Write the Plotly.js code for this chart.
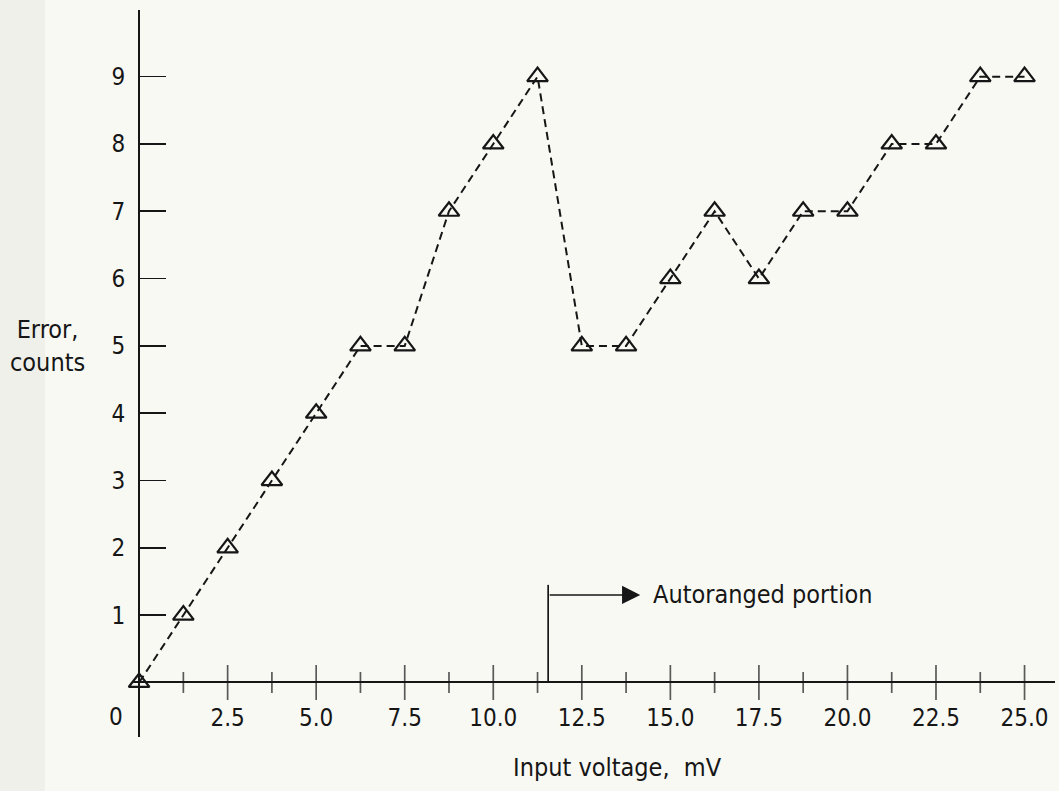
<!DOCTYPE html>
<html>
<head>
<meta charset="utf-8">
<script src="https://cdn.plot.ly/plotly-3.0.1.min.js"></script>
<style>
  html, body { margin: 0; padding: 0; background: #f9f9f4; }
  #chart { width: 1059px; height: 791px; }
</style>
</head>
<body>
<div id="chart"></div>
<script>
// Measured error (in counts) against input voltage (mV)
const inputVoltage = [0, 1.25, 2.5, 3.75, 5.0, 6.25, 7.5, 8.75, 10.0, 11.25, 12.5,
                      13.75, 15.0, 16.25, 17.5, 18.75, 20.0, 21.25, 22.5, 23.75, 25.0];
const errorCounts  = [0, 1, 2, 3, 4, 5, 5, 7, 8, 9, 5,
                      5, 6, 7, 6, 7, 7, 8, 8, 9, 9];

// Axis ticks
const xMajorTicks  = [2.5, 5.0, 7.5, 10.0, 12.5, 15.0, 17.5, 20.0, 22.5, 25.0];
const xTickLabels  = ['2.5', '5.0', '7.5', '10.0', '12.5', '15.0', '17.5', '20.0', '22.5', '25.0'];
const xMinorTicks  = [1.25, 3.75, 6.25, 8.75, 11.25, 13.75, 16.25, 18.75, 21.25, 23.75];
const yTicks       = [1, 2, 3, 4, 5, 6, 7, 8, 9];
const yTickLabels  = ['1', '2', '3', '4', '5', '6', '7', '8', '9'];

// Voltage where autoranging takes over
const autorangeStart = 11.55;

const INK = '#161616';
const BG = '#f9f9f4';
const FONT = "'DejaVu Sans Condensed', 'Liberation Sans Narrow', 'DejaVu Sans', sans-serif";

const xRange = [-0.2, 25.86];
const yRange = [-0.81, 9.99];
const margin = { l: 132, r: 4, t: 10, b: 54 };
const W = 1059, H = 791;
const plotW = W - margin.l - margin.r;

// axes cross at the origin
const xAxisPos = (0 - yRange[0]) / (yRange[1] - yRange[0]);
const yAxisPos = (0 - xRange[0]) / (xRange[1] - xRange[0]);

// crossing tick marks on the voltage axis
const tickMarks = {
  type: 'scatter',
  mode: 'markers',
  x: xMajorTicks.concat(xMinorTicks),
  y: xMajorTicks.map(() => 0).concat(xMinorTicks.map(() => 0)),
  marker: {
    symbol: 'line-ns-open',
    size: xMajorTicks.map(() => 25).concat(xMinorTicks.map(() => 15)),
    color: INK,
    line: { color: INK, width: 1.7 }
  },
  cliponaxis: false,
  hoverinfo: 'skip',
  showlegend: false
};

const errorTrace = {
  type: 'scatter',
  mode: 'lines+markers',
  x: inputVoltage,
  y: errorCounts,
  line: { color: INK, width: 2, dash: '8px,5px' },
  marker: {
    symbol: 'triangle-up-open',
    size: 18,
    color: INK,
    line: { color: INK, width: 2.2 }
  },
  cliponaxis: false,
  showlegend: false
};

const layout = {
  width: W,
  height: H,
  margin: margin,
  paper_bgcolor: BG,
  plot_bgcolor: 'rgba(0,0,0,0)',
  showlegend: false,
  font: { family: FONT, color: INK, size: 24 },
  xaxis: {
    range: xRange,
    anchor: 'free',
    position: xAxisPos,
    showline: true,
    linecolor: INK,
    linewidth: 2,
    zeroline: false,
    showgrid: false,
    tickmode: 'array',
    tickvals: xMajorTicks,
    ticktext: xTickLabels,
    ticks: '',
    ticklabelstandoff: 14,
    tickfont: { family: FONT, size: 24, color: INK }
  },
  yaxis: {
    range: yRange,
    anchor: 'free',
    position: yAxisPos,
    showline: true,
    linecolor: INK,
    linewidth: 2,
    zeroline: false,
    showgrid: false,
    tickmode: 'array',
    tickvals: yTicks,
    ticktext: yTickLabels,
    ticks: 'inside',
    ticklen: 26,
    tickwidth: 1.7,
    tickcolor: INK,
    ticklabelstandoff: 8,
    tickfont: { family: FONT, size: 24, color: INK }
  },
  shapes: [
    // darker strip along the page edge
    {
      type: 'rect', layer: 'below',
      xref: 'paper', yref: 'paper',
      x0: -margin.l / plotW, x1: (45 - margin.l) / plotW,
      y0: -1, y1: 2,
      fillcolor: '#f0f0ea', line: { width: 0 }
    },
    // marker for the start of the autoranged portion
    {
      type: 'line', xref: 'x', yref: 'y',
      x0: autorangeStart, x1: autorangeStart, y0: 0, y1: 1.45,
      line: { color: INK, width: 1.7 }
    }
  ],
  annotations: [
    {
      xref: 'x', yref: 'y',
      x: 14.15, y: 1.3,
      axref: 'x', ayref: 'y',
      ax: autorangeStart, ay: 1.3,
      text: '', showarrow: true,
      arrowhead: 2, arrowsize: 2.6, arrowwidth: 1.4, arrowcolor: INK
    },
    {
      xref: 'x', yref: 'y',
      x: 14.45, y: 1.3,
      xanchor: 'left', yanchor: 'middle',
      text: 'Autoranged portion', showarrow: false,
      font: { family: FONT, size: 25, color: INK }
    },
    {
      xref: 'x', yref: 'y',
      x: 0, y: 0,
      xanchor: 'right', yanchor: 'middle',
      xshift: -14, yshift: -35,
      text: '0', showarrow: false,
      font: { family: FONT, size: 24, color: INK }
    },
    {
      xref: 'x', yref: 'paper',
      x: 13.5, y: 0,
      xanchor: 'center', yanchor: 'middle',
      yshift: -30,
      text: 'Input voltage,  mV', showarrow: false,
      font: { family: FONT, size: 25, color: INK }
    },
    {
      xref: 'paper', yref: 'y',
      x: 0, y: 5,
      xanchor: 'center', yanchor: 'middle',
      xshift: -85,
      text: 'Error,<br>counts', showarrow: false, align: 'center',
      font: { family: FONT, size: 25, color: INK }
    }
  ]
};

Plotly.newPlot('chart', [tickMarks, errorTrace], layout, { displayModeBar: false, staticPlot: true });
</script>
</body>
</html>
